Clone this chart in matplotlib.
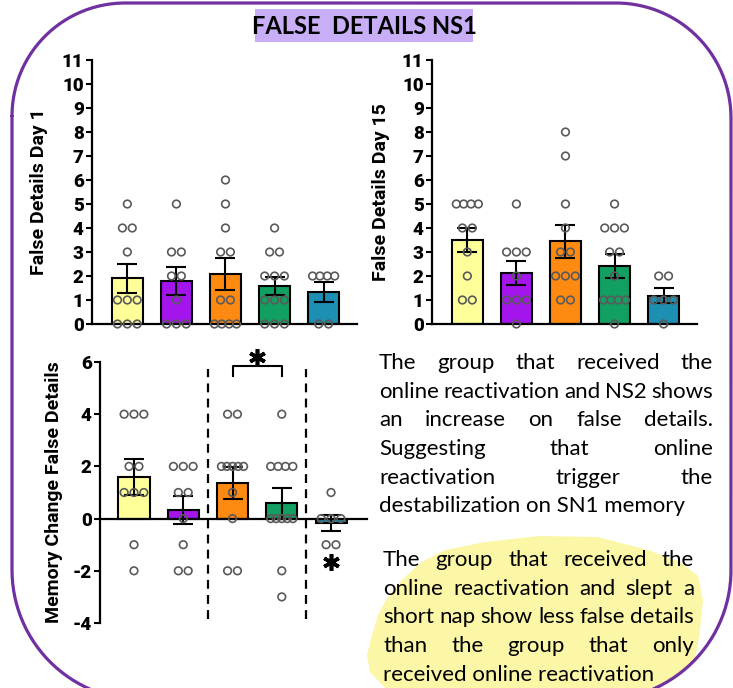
import matplotlib
matplotlib.use("Agg")
from matplotlib import pyplot as plt
from matplotlib.patches import Rectangle, Polygon
import numpy as np

# group colours (yellow, purple, orange, green, blue)
group_colors = ['#FFFF99', '#A414EC', '#FF8A12', '#12A062', '#1C8FB3']
group_pos = [0, 1, 2, 3, 4]

# False details day 1
day1_points = [[5, 4, 4, 3, 1, 1, 1, 0, 0, 0],
               [5, 3, 3, 2, 2, 1, 0, 0, 0],
               [6, 5, 4, 3, 3, 1, 1, 0, 0, 0, 0],
               [4, 3, 3, 2, 2, 2, 1, 1, 1, 0, 0, 0],
               [2, 2, 2, 2, 0, 0]]
day1_mean = [1.9, 1.78, 2.09, 1.58, 1.33]
day1_sem = [0.61, 0.58, 0.66, 0.36, 0.43]

# False details day 15
day15_points = [[5, 5, 5, 5, 4, 4, 3, 2, 1, 1],
                [5, 3, 3, 3, 2, 1, 1, 1, 0],
                [8, 7, 5, 4, 3, 3, 2, 2, 2, 1, 1],
                [5, 4, 4, 4, 3, 3, 2, 1, 1, 1, 1, 0],
                [2, 2, 1, 1, 1, 0]]
day15_mean = [3.5, 2.11, 3.45, 2.42, 1.17]
day15_sem = [0.51, 0.5, 0.69, 0.49, 0.31]

# memory change (day 15 - day 1)
change_points = [[4, 4, 4, 2, 2, 1, 1, 1, -1, -2],
                 [2, 2, 2, 1, 1, 0, -1, -2, -2],
                 [4, 4, 2, 2, 2, 2, 2, 1, 0, -2, -2],
                 [4, 2, 2, 2, 2, 0, 0, 0, 0, 0, -2, -3],
                 [1, 0, 0, 0, -1, -1]]
change_mean = [1.6, 0.33, 1.36, 0.58, -0.17]
change_sem = [0.68, 0.55, 0.61, 0.58, 0.29]

title_text = 'FALSE  DETAILS NS1'
note1 = ['The group that received the',
         'online reactivation and NS2 shows',
         'an increase on false details.',
         'Suggesting that online',
         'reactivation trigger the',
         'destabilization on SN1 memory']
note2 = ['The group that received the',
         'online reactivation and slept a',
         'short nap show less false details',
         'than the group that only',
         'received online reactivation']

AX_FONT = 'Roboto'

W, H = 733, 688
fig = plt.figure(figsize=(W / 100, H / 100), dpi=100)

# background layer in pixel coordinates
bg = fig.add_axes([0, 0, 1, 1], zorder=0)
bg.set_xlim(0, W)
bg.set_ylim(H, 0)
bg.axis('off')


def rounded_frame(x0, x1, y0, y1, r_tl, r_tr, r_br, r_bl):
    xs, ys = [], []
    corners = [(x0 + r_tl, y0 + r_tl, r_tl, 180, 270),
               (x1 - r_tr, y0 + r_tr, r_tr, 270, 360),
               (x1 - r_br, y1 - r_br, r_br, 0, 90),
               (x0 + r_bl, y1 - r_bl, r_bl, 90, 180)]
    for cx, cy, r, a0, a1 in corners:
        t = np.radians(np.linspace(a0, a1, 60))
        xs.extend(cx + r * np.cos(t))
        ys.extend(cy + r * np.sin(t))
    xs.append(xs[0])
    ys.append(ys[0])
    return xs, ys


fx, fy = rounded_frame(12, 731, 3, 700, 113, 115, 130, 130)
bg.plot(fx, fy, color='#7030A0', lw=2.3, clip_on=False, solid_capstyle='round')

bg.add_patch(Rectangle((255, 9), 218, 33, fc='#C7AEF6', ec='none'))
bg.text(364, 27, title_text, ha='center', va='center', fontsize=17,
        fontweight='bold', family='Lato', color='black')

brush = Polygon([(485, 542), (540, 536), (598, 537), (648, 550), (680, 562),
                 (698, 576), (703, 600), (700, 630), (695, 660), (672, 680),
                 (655, 688), (385, 688), (370, 672), (367, 655), (372, 635),
                 (378, 615), (386, 600), (400, 582), (420, 563), (445, 550)],
                closed=True, fc='#FBF7A6', ec='none')
bg.add_patch(brush)

renderer = fig.canvas.get_renderer()


def justified(lines, x0, x1, baselines, size):
    for k, (line, yb) in enumerate(zip(lines, baselines)):
        if k == len(lines) - 1:
            bg.text(x0, yb, line, ha='left', va='baseline', fontsize=size, family='Lato')
            continue
        words = line.split()
        objs = [bg.text(x0, yb, w, ha='left', va='baseline', fontsize=size, family='Lato')
                for w in words]
        widths = [o.get_window_extent(renderer).width for o in objs]
        gap = (x1 - x0 - sum(widths)) / (len(words) - 1)
        x = x0
        for o, w in zip(objs, widths):
            o.set_x(x)
            x += w + gap


justified(note1, 379, 713, [369, 398, 426, 455, 484, 512], 16)
justified(note2, 383, 694, [566, 595, 623, 652, 681], 16)


def spread(vals):
    counts = {}
    for v in vals:
        counts[v] = counts.get(v, 0) + 1
    seen = {}
    offs = []
    for v in vals:
        k = counts[v]
        i = seen.get(v, 0)
        seen[v] = i + 1
        sp = 0.2 if k <= 3 else 0.45 / (k - 1)
        offs.append((i - (k - 1) / 2) * sp)
    return offs


def px_axes(left, right, top, bottom):
    return fig.add_axes([left / W, (H - bottom) / H, (right - left) / W, (bottom - top) / H],
                        zorder=2, facecolor='none')


def style(ax, ticks, label, lx):
    for s in ['top', 'right']:
        ax.spines[s].set_visible(False)
    for s in ['left', 'bottom']:
        ax.spines[s].set_linewidth(1.6)
    ax.set_yticks(ticks)
    ax.set_yticklabels([str(t) for t in ticks], fontsize=13.5, fontweight='heavy',
                       family=AX_FONT)
    ax.tick_params(axis='y', direction='out', length=4.5, width=1.5, pad=1.5)
    ax.tick_params(axis='x', length=0, labelbottom=False)
    ax.set_ylabel(label, fontsize=14, fontweight='bold', family=AX_FONT)
    ax.yaxis.set_label_coords(lx, 0.5)


def draw_panel(ax, points, means, sems):
    ax.bar(group_pos, means, width=0.63, color=group_colors, edgecolor='black',
           linewidth=1.5, zorder=2)
    ax.errorbar(group_pos, means, yerr=sems, fmt='none', ecolor='black',
                elinewidth=1.5, capsize=7, capthick=1.5, zorder=3)
    for x0, vals in zip(group_pos, points):
        offs = spread(vals)
        ax.scatter([x0 + o for o in offs], vals, s=30, facecolors='none',
                   edgecolors='#5A5A5A', linewidths=1.2, zorder=4, clip_on=False)


ax1 = px_axes(92, 357, 60, 324)
draw_panel(ax1, day1_points, day1_mean, day1_sem)
ax1.set_xlim(-0.72, 4.68)
ax1.set_ylim(0, 11)
style(ax1, list(range(0, 12)), 'False Details Day 1', -0.165)

ax2 = px_axes(432, 697, 60, 324)
draw_panel(ax2, day15_points, day15_mean, day15_sem)
ax2.set_xlim(-0.72, 4.68)
ax2.set_ylim(0, 11)
style(ax2, list(range(0, 12)), 'False Details Day 15', -0.16)

ax3 = px_axes(100, 367, 362, 623)
draw_panel(ax3, change_points, change_mean, change_sem)
ax3.set_xlim(-0.69, 4.73)
ax3.set_ylim(-4, 6)
ax3.spines['bottom'].set_position(('data', 0))
style(ax3, [-4, -2, 0, 2, 4, 6], 'Memory Change False Details', -0.14)
for xv in [1.5, 3.5]:
    ax3.plot([xv, xv], [-3.85, 5.75], color='black', lw=1.6,
             linestyle=(0, (4, 2.8)), zorder=1)
ax3.plot([2, 2, 3, 3], [5.45, 5.85, 5.85, 5.45], color='black', lw=1.5,
         clip_on=False, zorder=5)
ax3.plot([2.5], [6.2], marker=(6, 2, 0), markersize=12, mew=2.6, color='black',
         clip_on=False, zorder=5)
ax3.plot([4], [-1.65], marker=(6, 2, 0), markersize=12, mew=2.6, color='black',
         clip_on=False, zorder=5)

fig.savefig('out.png', dpi=100)
